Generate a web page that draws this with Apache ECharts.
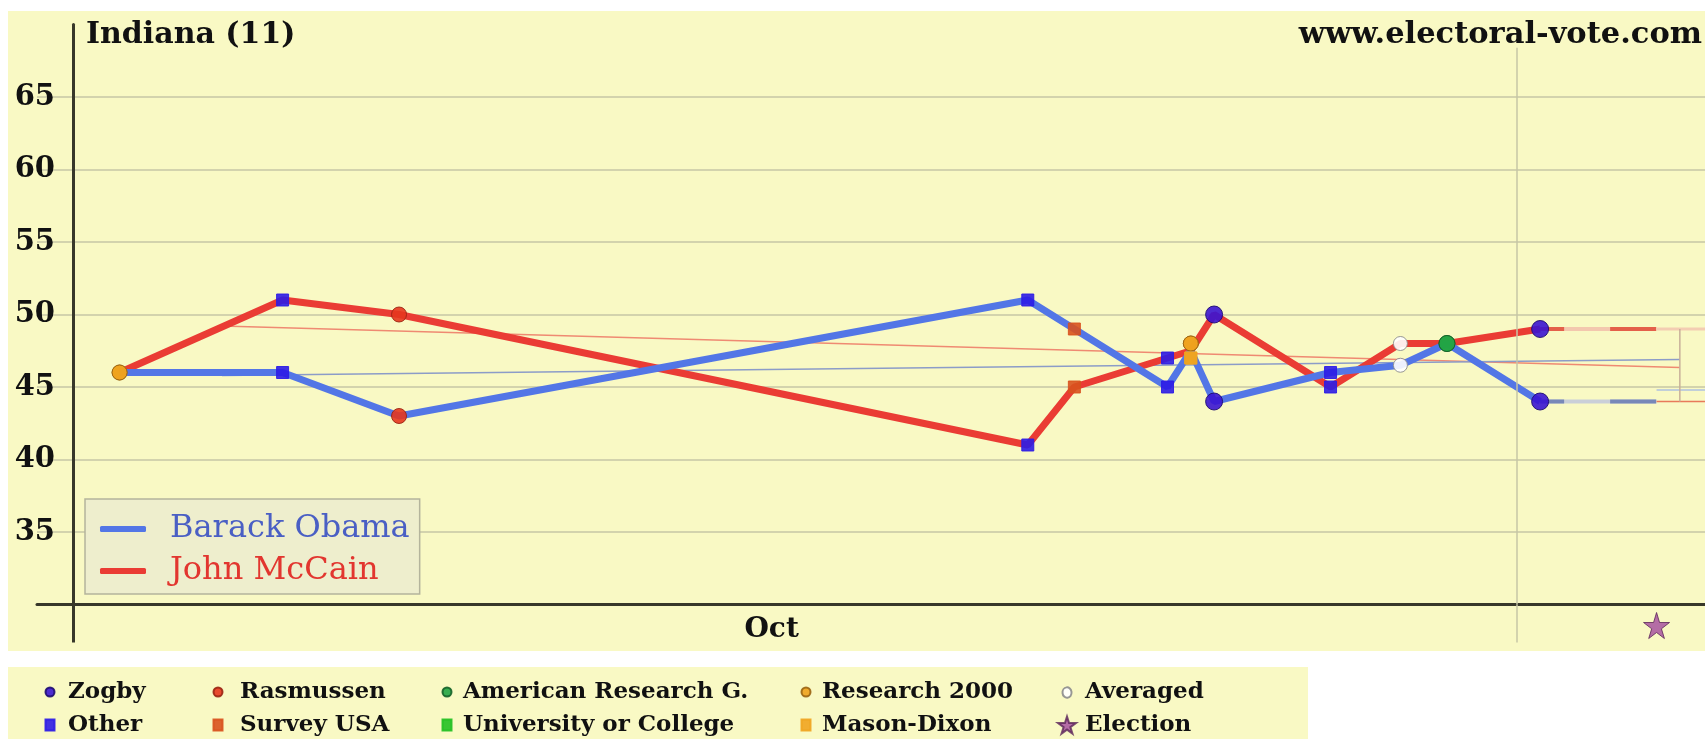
<!DOCTYPE html>
<html><head><meta charset="utf-8">
<script src="https://cdn.jsdelivr.net/npm/echarts@6/dist/echarts.min.js"></script>
<style>html,body{margin:0;padding:0;background:#fff}#c{width:1705px;height:739px}</style>
</head><body><div id="c"></div>
<script>
// x values are days after Oct 1, 2008 (0 = Oct 1, 31 = Nov 1, 34 = Nov 4 election)
const pollDays  = [1, 4.5, 7, 20.5, 21.5, 23.5, 24, 24, 24.5, 27, 28.5, 29.5, 31.5];
const pollsters = ['Research 2000','Other','Rasmussen','Other','Survey USA','Other','Research 2000','Mason-Dixon','Zogby','Other','Averaged','American Research G.','Zogby'];
const obamaPolls  = [46, 46, 43, 51, 49, 45, 48, 47, 44, 46, 46.5, 48, 44];
const mccainPolls = [46, 51, 50, 41, 45, 47, 48, 47, 50, 45, 48, 48, 49];

const lineDays   = [1, 4.5, 7, 20.5, 21.5, 23.5, 24, 24.5, 27, 28.5, 29.5, 31.5];
const obamaLine  = [46, 46, 43, 51, 49, 45, 47.5, 44, 46, 46.5, 48, 44];
const mccainLine = [46, 51, 50, 41, 45, 47, 47.5, 50, 45, 48, 48, 49];

const trendDays   = [3.2, 34.5];
const obamaTrend  = [45.8, 46.9];
const mccainTrend = [49.2, 46.35];

const projDays   = [31.5, 34];
const obamaProj  = [44, 44];
const mccainProj = [49, 49];
const tailDays   = [34, 35.04];
const mccainTail = [49, 49];
const obamaTail  = [44.8, 44.8];
const lowTail    = [44, 44];
const rangeDay = 34.5;
const rangeLow = 44, rangeHigh = 49;

const electionDay = 34;
const nov1Day = 31;
const monthLabelDay = 15;
const monthLabel = 'Oct';

const legendColumns = [['Zogby','Other'],['Rasmussen','Survey USA'],['American Research G.','University or College'],['Research 2000','Mason-Dixon'],['Averaged','Election']];

const STAR = 'path://M50,0 L61,35 L98,35 L68,57 L79,91 L50,70 L21,91 L32,57 L2,35 L39,35 Z';
const SMALLCIRCLE = 'path://M0,0 L0,0 M18,18 L18,18 M13.5,9 A4.5,5.2 0 1,1 13.49,8.9 Z';
const pollStyles = {
  'Zogby':               {symbol:'circle', color:'#3a14d2', border:'#1e0c70', size:17},
  'Rasmussen':           {symbol:'circle', color:'#e5361e', border:'#9a2412', size:15},
  'American Research G.':{symbol:'circle', color:'#22a444', border:'#146028', size:16},
  'Research 2000':       {symbol:'circle', color:'#eea21e', border:'#9a6412', size:15},
  'Averaged':            {symbol:'circle', color:'#ffffff', border:'#8c8c8c', size:14},
  'Other':               {symbol:'rect',   color:'#2c1ce6', border:'#2c1ce6', size:12},
  'Survey USA':          {symbol:'rect',   color:'#d8521e', border:'#d8521e', size:12},
  'University or College':{symbol:'rect',  color:'#22c022', border:'#22c022', size:12},
  'Mason-Dixon':         {symbol:'rect',   color:'#f0a420', border:'#f0a420', size:12}
};

const FONT = 'DejaVu Serif';
const AXIS = '#38382a';
const GRIDC = '#c6c6a6';

const chart = echarts.init(document.getElementById('c'), null, {renderer:'canvas'});

const pollSeries = Object.keys(pollStyles).map(name => {
  const st = pollStyles[name];
  const data = [];
  pollDays.forEach((d, i) => {
    if (pollsters[i] === name) { data.push([d, mccainPolls[i]]); data.push([d, obamaPolls[i]]); }
  });
  return {
    name, type:'scatter', symbol: st.symbol, symbolSize: st.size, data, z: 5,
    itemStyle:{color: st.color, borderColor: st.border, borderWidth: 1, opacity: 0.9},
    emphasis:{disabled:true}
  };
});

const zip = (xs, ys) => xs.map((x, i) => [x, ys[i]]);
const thin = (data, color, width, extra) => Object.assign({type:'line', data, symbol:'none', silent:true, z:1,
  lineStyle:Object.assign({color, width}, extra || {})});

const option = {
  animation:false,
  backgroundColor:'#ffffff',
  graphic:[
    {type:'rect', z:-10, shape:{x:8, y:11, width:1697, height:640}, style:{fill:'#f9f9c4'}},
    {type:'rect', z:-10, shape:{x:8, y:667, width:1300, height:72}, style:{fill:'#f9f9c4'}}
  ],
  title:[
    {text:'Indiana (11)', left:86, top:20, padding:0, textStyle:{fontFamily:FONT, fontSize:30, fontWeight:'bold', color:'#111'}},
    {text:'www.electoral-vote.com', right:3, top:20, padding:0, textStyle:{fontFamily:FONT, fontSize:30.5, fontWeight:'bold', color:'#111'}}
  ],
  grid:{left:37, right:0, top:24.5, bottom:134.5, containLabel:false, outerBoundsMode:'none'},
  xAxis:[
    {type:'value', min:-0.773, max:35.04, position:'bottom',
     axisLine:{show:true, onZero:false, lineStyle:{color:AXIS, width:3}},
     axisTick:{show:true, customValues:[0], length:38, lineStyle:{color:AXIS, width:3}},
     axisLabel:{show:true, customValues:[monthLabelDay], formatter:()=>monthLabel, margin:11,
       fontFamily:FONT, fontSize:28, fontWeight:'bold', color:'#111'},
     splitLine:{show:false}},
    {type:'value', min:-0.773, max:35.04, position:'bottom',
     axisLine:{show:false},
     axisTick:{show:true, customValues:[nov1Day], length:38, lineStyle:{color:GRIDC, width:1.5}},
     axisLabel:{show:false}, splitLine:{show:false}}
  ],
  yAxis:{type:'value', min:30, max:70, interval:5, offset:-36,
    axisLine:{show:true, onZero:false, lineStyle:{color:AXIS, width:3}},
    axisTick:{show:false},
    axisLabel:{showMinLabel:false, showMaxLabel:false, margin:18, fontFamily:FONT, fontSize:29, fontWeight:'bold', color:'#111'},
    splitLine:{show:true, showMinLine:false, showMaxLine:false, lineStyle:{color:GRIDC, width:1.5}}
  },
  legend:[
    {orient:'vertical', left:85, top:499, padding:[13,10,6,15], itemGap:8, itemWidth:46, itemHeight:6,
     backgroundColor:'#eeeecd', borderColor:'#b4b49c', borderWidth:1.5, icon:'roundRect', selectedMode:false,
     data:[{name:'Barack Obama', textStyle:{color:'#4a5fc4'}}, {name:'John McCain', textStyle:{color:'#e2362f'}}],
     textStyle:{fontFamily:FONT, fontSize:32, lineHeight:34, padding:[0,0,0,19]}}
  ].concat(legendColumns.map((names, i) => {
    const last = i === legendColumns.length - 1;
    const dots = [49, 217, 446, 805, 1066];
    const pads = [8.5, 12.5, 6.5, 6.5, 4];
    const w = last ? 18 : 9;
    return {
      orient:'vertical', left:dots[i] - w / 2, top:679, padding:0, itemGap:7,
      itemWidth: w, itemHeight: last ? 18 : 11, selectedMode:false,
      data: names.map(n => last ? {name:n, icon: n === 'Election' ? STAR : SMALLCIRCLE} : {name:n}),
      textStyle:{fontFamily:FONT, fontSize:23, fontWeight:'bold', color:'#111', lineHeight:26, padding:[0,0,0,pads[i]]}
    };
  })),
  series:[
    thin(zip(trendDays, mccainTrend), '#ef8a72', 1.5),
    thin(zip(trendDays, obamaTrend), '#8c9cc8', 1.5),
    thin(zip(projDays, mccainProj), '#f3c8ae', 4),
    thin(zip(projDays, mccainProj), '#e4604a', 4, {type:[46,46], dashOffset:22}),
    thin(zip(projDays, obamaProj), '#cacfd8', 4),
    thin(zip(projDays, obamaProj), '#7888b8', 4, {type:[46,46], dashOffset:22}),
    thin(zip(tailDays, mccainTail), '#f3cdb2', 3),
    thin(zip(tailDays, obamaTail), '#aec0e0', 1.5),
    thin(zip(tailDays, lowTail), '#e87a5a', 1.5),
    thin([[rangeDay, rangeLow],[rangeDay, rangeHigh]], '#c8b09a', 1.5),
    {name:'John McCain', type:'line', data:zip(lineDays, mccainLine), showSymbol:false, symbol:'none', z:3,
     lineStyle:{color:'#ea3c34', width:7}, itemStyle:{color:'#ea3c34'}, emphasis:{disabled:true},
     markLine:{silent:true, symbol:'none', label:{show:false}, lineStyle:{color:GRIDC, width:1.5, type:'solid'},
       data:[[{coord:[nov1Day, 68.4]}, {coord:[nov1Day, 30]}]]}},
    {name:'Barack Obama', type:'line', data:zip(lineDays, obamaLine), showSymbol:false, symbol:'none', z:3,
     lineStyle:{color:'#5376e6', width:7}, itemStyle:{color:'#5376e6'}, emphasis:{disabled:true}}
  ].concat(pollSeries).concat([
    {name:'Election', type:'scatter', symbol:STAR, symbolSize:26, symbolOffset:[0,21], clip:false, z:6,
     data:[[electionDay, 30]], itemStyle:{color:'#a24a9e', borderColor:'#5a2458', borderWidth:1}}
  ])
};
chart.setOption(option);
</script>
</body></html>
